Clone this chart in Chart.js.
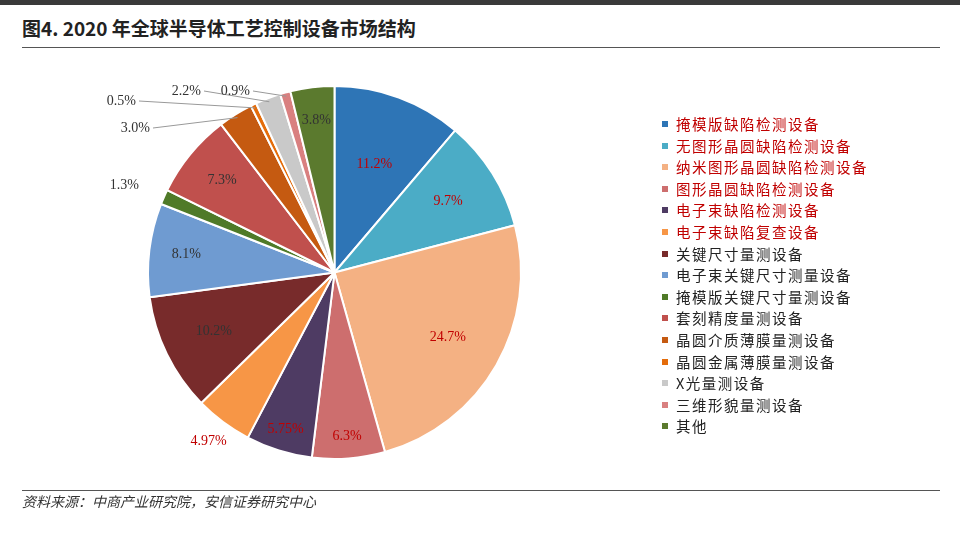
<!DOCTYPE html>
<html><head><meta charset="utf-8">
<script src="https://cdn.jsdelivr.net/npm/chart.js@4/dist/chart.umd.min.js"></script>
<style>
body{margin:0;width:960px;height:544px;background:#fff;position:relative;overflow:hidden;font-family:"Noto Sans CJK SC",sans-serif}
#bar{position:absolute;left:0;top:0;width:960px;height:5px;background:#3a3a3a}
#title{position:absolute;left:22px;top:14px;font-size:19px;font-weight:bold;color:#222}
#l1{position:absolute;left:22px;top:47px;width:918px;height:1px;background:#555}
#l2{position:absolute;left:22px;top:490px;width:918px;height:1px;background:#555}
#src{position:absolute;left:22px;top:491px;font-size:14px;font-style:italic;color:#333}
#wrap{position:absolute;left:0;top:35px;width:670px;height:475px}
#leg{position:absolute;left:662px;top:113px;font-size:14.5px;font-family:"Noto Sans CJK SC",serif}
#leg div{height:21.6px;line-height:21.6px;white-space:nowrap;letter-spacing:1.5px}
#leg span{display:inline-block;width:6px;height:6px;margin-right:8px;vertical-align:middle;position:relative;top:-2px}
</style></head><body>
<div id="bar"></div>
<div id="title">图4. 2020 年全球半导体工艺控制设备市场结构</div>
<div id="l1"></div>
<div id="wrap"><canvas id="c" width="670" height="475"></canvas></div>
<div id="leg"></div>
<div id="l2"></div>
<div id="src">资料来源：中商产业研究院，安信证券研究中心</div>
<script>
const categories=["掩模版缺陷检测设备","无图形晶圆缺陷检测设备","纳米图形晶圆缺陷检测设备","图形晶圆缺陷检测设备","电子束缺陷检测设备","电子束缺陷复查设备","关键尺寸量测设备","电子束关键尺寸测量设备","掩模版关键尺寸量测设备","套刻精度量测设备","晶圆介质薄膜量测设备","晶圆金属薄膜量测设备","X光量测设备","三维形貌量测设备","其他"];
const values=[11.2,9.7,24.7,6.3,5.75,4.97,10.2,8.1,1.3,7.3,3.0,0.5,2.2,0.9,3.8];
const valueLabels=["11.2%","9.7%","24.7%","6.3%","5.75%","4.97%","10.2%","8.1%","1.3%","7.3%","3.0%","0.5%","2.2%","0.9%","3.8%"];
const colors=["#2E75B6","#4BACC6","#F4B183","#CD6E6E","#4E3B63","#F79646","#782B2B","#6F9BD1","#4F7A28","#C0504D","#C55A11","#E46C0A","#C9C9C9","#D98080","#5B7A2E"];
const legendRed=[1,1,1,1,1,1,0,0,0,0,0,0,0,0,0];
const labelColors=["#C00000","#C00000","#C00000","#C00000","#C00000","#C00000","#333","#333","#333","#333","#333","#333","#333","#333","#333"];
// label placement: [radius factor, dx, dy, align, leader]
const labelPlace=[[0.62,0,0,"center",0],[0.72,0,0,"center",0],[0.7,0,0,"center",0],[0.88,0,0,"center",0],[0.88,0,0,"center",0],[1.13,0,0,"center",0],[0.72,0,0,"center",0],[0.8,0,0,"center",0],[1.1,-8,-4,"right",0],[0.78,0,0,"center",0],[null,150,128,"right",1],[null,136,101,"right",1],[null,201,91,"right",1],[null,250,91,"right",1],[0.82,0,0,"center",0]];
const leg=document.getElementById('leg');
categories.forEach((c,i)=>{leg.innerHTML+=`<div style="color:${legendRed[i]?'#C00000':'#222'}"><span style="background:${colors[i]}"></span>${c}</div>`;});
const labelPlugin={id:'lbl',afterDraw(ch){
 const ctx=ch.ctx;const meta=ch.getDatasetMeta(0);const wrapL=0,wrapT=35;
 ctx.save();ctx.font='14px "Liberation Serif"';ctx.textBaseline='middle';
 meta.data.forEach((a,i)=>{
  const m=(a.startAngle+a.endAngle)/2;const p=labelPlace[i];const R=a.outerRadius;
  let x,y;
  if(p[0]!==null){x=a.x+Math.cos(m)*R*p[0]+p[1];y=a.y+Math.sin(m)*R*p[0]+p[2];}
  else{x=p[1]-wrapL;y=p[2]-wrapT;}
  if(p[4]){const ex=a.x+Math.cos(m)*R*0.98,ey=a.y+Math.sin(m)*R*0.98;
   ctx.strokeStyle='#999';ctx.lineWidth=1;ctx.beginPath();ctx.moveTo(x+3,y);ctx.lineTo(ex,ey);ctx.stroke();}
  ctx.fillStyle=labelColors[i];ctx.textAlign=p[3];ctx.fillText(valueLabels[i],x,y);
 });ctx.restore();}};
new Chart(document.getElementById('c'),{type:'pie',
 data:{labels:categories,datasets:[{data:values,backgroundColor:colors,borderColor:'#fff',borderWidth:2}]},
 options:{responsive:false,animation:false,devicePixelRatio:1,layout:{padding:{left:147,right:148,top:50,bottom:50}},
  plugins:{legend:{display:false},tooltip:{enabled:false}}},
 plugins:[labelPlugin]});
</script>
</body></html>
